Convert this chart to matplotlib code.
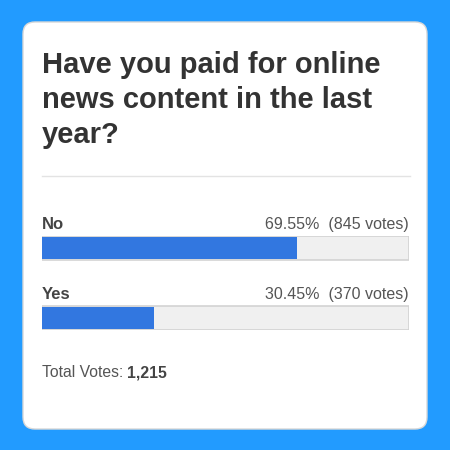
import matplotlib
matplotlib.use("Agg")
import matplotlib.pyplot as plt
from matplotlib.patches import FancyBboxPatch

question_lines = ["Have you paid for online", "news content in the last", "year?"]
options = ["No", "Yes"]
percents = [69.55, 30.45]
votes = [845, 370]
total_votes = "1,215"

W = H = 450
fig = plt.figure(figsize=(4.5, 4.5), dpi=100)
fig.patch.set_facecolor("#229BFF")

bg = fig.add_axes([0, 0, 1, 1])
bg.set_xlim(0, W)
bg.set_ylim(H, 0)
bg.axis("off")

card = FancyBboxPatch((23 + 12, 22 + 12), 404 - 24, 407 - 24,
                      boxstyle="round,pad=12", facecolor="white",
                      edgecolor="#d8d8d8", linewidth=1.0)
bg.add_patch(card)

fam = ["Liberation Sans", "DejaVu Sans"]
for i, line in enumerate(question_lines):
    bg.text(42, 73 + 35 * i, line, fontsize=21, fontweight="bold",
            color="#333333", family=fam, va="baseline", ha="left")
bg.plot([42, 410], [176, 176], color="#e3e3e3", linewidth=1)

label_y = [229, 299]
for lab, p, v, y in zip(options, percents, votes, label_y):
    bg.text(42, y, lab, fontsize=12, fontweight="bold", color="#444444",
            family=fam, va="baseline", ha="left")
    bg.text(409, y, f"{p:.2f}%  ({v} votes)", fontsize=11.5, color="#555555",
            family=fam, va="baseline", ha="right")

t1 = bg.text(42, 377, "Total Votes:", fontsize=11.3, color="#555555",
             family=fam, va="baseline", ha="left")
r = fig.canvas.get_renderer()
ext = t1.get_window_extent(renderer=r)
bg.text(ext.x1 + 3.5, 377, total_votes, fontsize=11.3, fontweight="bold",
        color="#444444", family=fam, va="baseline", ha="left")

# bars axes
h = 24 / 70
top_px, bot_px = 236, 330
ax = fig.add_axes([42 / W, 1 - bot_px / H, 367 / W, (bot_px - top_px) / H])
ax.set_xlim(0, 100)
ax.set_ylim(1 + h / 2, -h / 2)
ax.axis("off")
ypos = list(range(len(options)))
ax.barh(ypos, [100] * len(options), height=h, color="#f0f0f0",
        edgecolor="#d3d3d3", linewidth=1.2)
ax.barh(ypos, percents, height=h * 0.92, color="#3277E0", linewidth=0)

fig.savefig("out.png", dpi=100, facecolor=fig.get_facecolor())
